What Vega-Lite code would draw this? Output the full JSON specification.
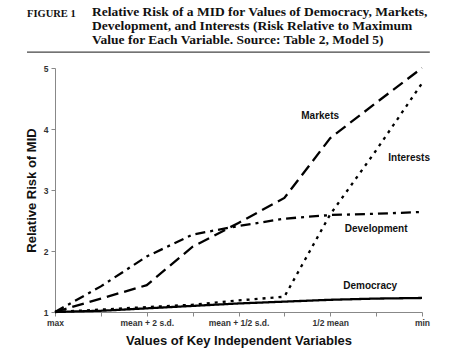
{
  "$schema": "https://vega.github.io/schema/vega-lite/v6.json",
  "autosize": "none",
  "width": 367,
  "height": 244,
  "padding": {"left": 55, "top": 68, "right": 28, "bottom": 42},
  "background": "white",
  "title": {
    "text": ["Relative Risk of a MID for Values of Democracy, Markets,", "Development, and Interests (Risk Relative to Maximum", "Value for Each Variable. Source: Table 2, Model 5)"],
    "anchor": "start",
    "frame": "group",
    "dx": 37,
    "offset": -38,
    "font": "Liberation Serif",
    "fontSize": 13.5,
    "fontWeight": "bold",
    "lineHeight": 14,
    "color": "#111"
  },
  "config": {
    "view": {"stroke": null},
    "axis": {
      "grid": false,
      "domainColor": "#888",
      "tickColor": "#888",
      "labelColor": "#333",
      "labelFont": "Liberation Sans",
      "labelFontWeight": "bold",
      "labelFontSize": 8.5,
      "titleFont": "Liberation Sans",
      "titleFontWeight": "bold",
      "titleFontSize": 13,
      "titleColor": "#111",
      "tickSize": 4
    }
  },
  "datasets": {
    "series": [
      {"x": 0, "value": 1.0, "series": "Markets"},
      {"x": 1, "value": 1.22, "series": "Markets"},
      {"x": 2, "value": 1.44, "series": "Markets"},
      {"x": 3, "value": 2.07, "series": "Markets"},
      {"x": 4, "value": 2.46, "series": "Markets"},
      {"x": 5, "value": 2.87, "series": "Markets"},
      {"x": 6, "value": 3.85, "series": "Markets"},
      {"x": 7, "value": 4.43, "series": "Markets"},
      {"x": 8, "value": 5.0, "series": "Markets"},
      {"x": 0, "value": 1.0, "series": "Development"},
      {"x": 1, "value": 1.42, "series": "Development"},
      {"x": 2, "value": 1.91, "series": "Development"},
      {"x": 3, "value": 2.27, "series": "Development"},
      {"x": 4, "value": 2.41, "series": "Development"},
      {"x": 5, "value": 2.53, "series": "Development"},
      {"x": 6, "value": 2.59, "series": "Development"},
      {"x": 7, "value": 2.61, "series": "Development"},
      {"x": 8, "value": 2.64, "series": "Development"},
      {"x": 0, "value": 1.0, "series": "Interests"},
      {"x": 1, "value": 1.04, "series": "Interests"},
      {"x": 2, "value": 1.08, "series": "Interests"},
      {"x": 3, "value": 1.12, "series": "Interests"},
      {"x": 4, "value": 1.19, "series": "Interests"},
      {"x": 5, "value": 1.25, "series": "Interests"},
      {"x": 6, "value": 2.6, "series": "Interests"},
      {"x": 7, "value": 3.65, "series": "Interests"},
      {"x": 8, "value": 4.75, "series": "Interests"},
      {"x": 0, "value": 1.0, "series": "Democracy"},
      {"x": 1, "value": 1.02, "series": "Democracy"},
      {"x": 2, "value": 1.06, "series": "Democracy"},
      {"x": 3, "value": 1.10, "series": "Democracy"},
      {"x": 4, "value": 1.14, "series": "Democracy"},
      {"x": 5, "value": 1.17, "series": "Democracy"},
      {"x": 6, "value": 1.20, "series": "Democracy"},
      {"x": 7, "value": 1.22, "series": "Democracy"},
      {"x": 8, "value": 1.23, "series": "Democracy"}
    ],
    "labels": [
      {"name": "Markets", "x": 5.78, "value": 4.21},
      {"name": "Interests", "x": 7.72, "value": 3.52},
      {"name": "Development", "x": 7.0, "value": 2.36},
      {"name": "Democracy", "x": 6.87, "value": 1.43}
    ],
    "one": [{"label": "FIGURE 1"}]
  },
  "layer": [
    {
      "data": {"name": "series"},
      "mark": {"type": "line", "color": "black", "strokeWidth": 2.3, "strokeCap": "butt"},
      "encoding": {
        "x": {
          "field": "x", "type": "quantitative",
          "scale": {"domain": [0, 8], "nice": false, "zero": false},
          "axis": {
            "values": [0, 1, 2, 3, 4, 5, 6, 7, 8],
            "labelExpr": "datum.value == 0 ? 'max' : datum.value == 2 ? 'mean + 2 s.d.' : datum.value == 4 ? 'mean + 1/2 s.d.' : datum.value == 6 ? '1/2 mean' : datum.value == 8 ? 'min' : ''",
            "labelFlush": false,
            "labelOverlap": false,
            "labelPadding": 2,
            "title": "Values of Key Independent Variables",
            "titlePadding": 8
          }
        },
        "y": {
          "field": "value", "type": "quantitative",
          "scale": {"domain": [1, 5], "nice": false, "zero": false},
          "axis": {
            "values": [1, 2, 3, 4, 5],
            "format": "d",
            "labelPadding": 3,
            "title": "Relative Risk of MID",
            "titlePadding": 5
          }
        },
        "detail": {"field": "series"},
        "strokeDash": {
          "field": "series", "type": "nominal",
          "scale": {
            "domain": ["Markets", "Development", "Interests", "Democracy"],
            "range": [[12, 6], [10, 5, 3, 5], [3, 5], [1, 0]]
          },
          "legend": null
        }
      }
    },
    {
      "data": {"name": "labels"},
      "mark": {"type": "text", "font": "Liberation Sans", "fontWeight": "bold", "fontSize": 10, "color": "#111", "baseline": "middle", "align": "center"},
      "encoding": {
        "x": {"field": "x", "type": "quantitative"},
        "y": {"field": "value", "type": "quantitative"},
        "text": {"field": "name"}
      }
    },
    {
      "data": {"name": "one"},
      "mark": {"type": "text", "font": "Liberation Serif", "fontWeight": "bold", "fontSize": 10.5, "color": "#111", "align": "left", "baseline": "alphabetic"},
      "encoding": {
        "x": {"datum": -0.61, "type": "quantitative"},
        "y": {"datum": 5.84, "type": "quantitative"},
        "text": {"field": "label"}
      }
    },
    {
      "data": {"name": "one"},
      "mark": {"type": "rule", "color": "#444", "strokeWidth": 1.2},
      "encoding": {
        "x": {"datum": -0.61, "type": "quantitative"},
        "x2": {"datum": 8.17},
        "y": {"datum": 5.26, "type": "quantitative"}
      }
    }
  ]
}
